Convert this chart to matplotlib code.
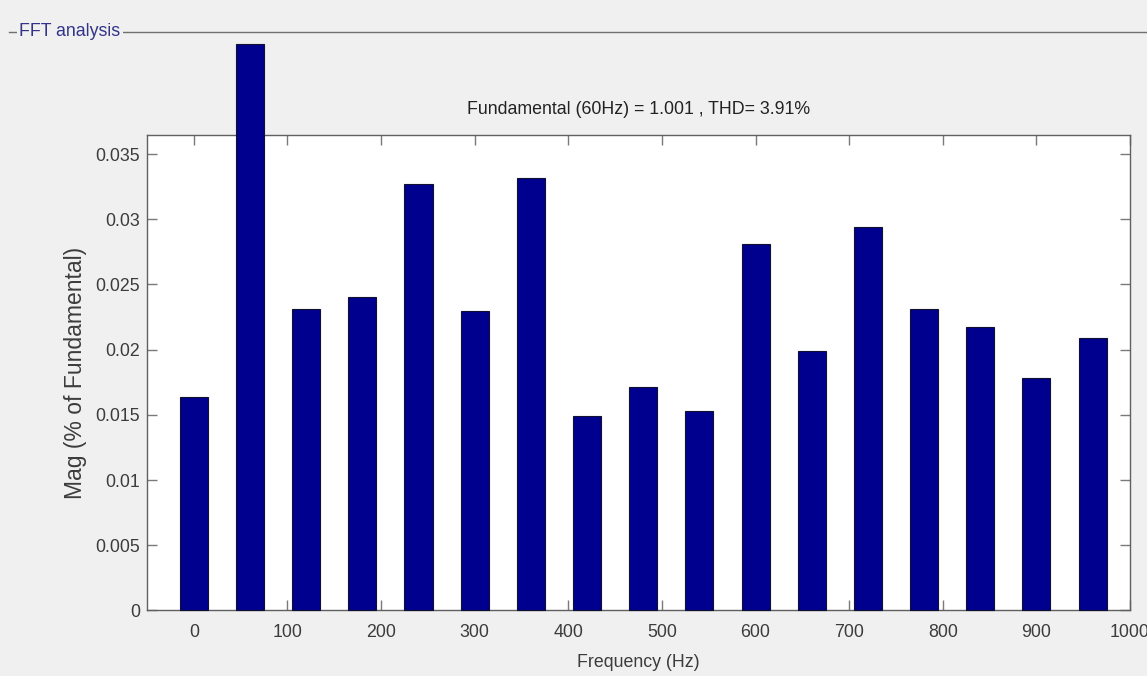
import matplotlib
matplotlib.use("Agg")
import matplotlib.pyplot as plt
from matplotlib.lines import Line2D

# harmonic orders plotted as frequency bins (Hz)
freqs = [0, 60, 120, 180, 240, 300, 360, 420, 480, 540, 600, 660, 720, 780, 840, 900, 960]
# magnitude (% of fundamental)
mags = [0.0164, 0.0434, 0.0231, 0.0240, 0.0327, 0.0230, 0.0332, 0.0149, 0.0171,
        0.0153, 0.0281, 0.0199, 0.0294, 0.0231, 0.0217, 0.0178, 0.0209]

xticks = [0, 100, 200, 300, 400, 500, 600, 700, 800, 900, 1000]
yticks = [0, 0.005, 0.01, 0.015, 0.02, 0.025, 0.03, 0.035]
ytick_labels = ["0", "0.005", "0.01", "0.015", "0.02", "0.025", "0.03", "0.035"]

title = "Fundamental (60Hz) = 1.001 , THD= 3.91%"
panel_title = "FFT analysis"

BG = "#f0f0f0"
BAR = "#00008f"
TXT = "#3c3c3c"
FONT = ["Liberation Sans", "DejaVu Sans"]
FS = 12.8

fig = plt.figure(figsize=(11.47, 6.76), dpi=100, facecolor=BG)
ax = fig.add_axes([0.1282, 0.0969, 0.857, 0.7034])

ax.bar(freqs, mags, width=30, color=BAR, edgecolor="#101030", linewidth=0.8,
       clip_on=False, zorder=3)

ax.set_xlim(-50, 1000)
ax.set_ylim(0, 0.03646)
ax.set_xticks(xticks)
ax.set_xticklabels([str(t) for t in xticks], family=FONT, fontsize=FS, color=TXT)
ax.set_yticks(yticks)
ax.set_yticklabels(ytick_labels, family=FONT, fontsize=FS, color=TXT)
ax.tick_params(direction="in", length=7, width=1.0, color="#7a7a7a",
               top=True, right=True)
ax.tick_params(axis="y", pad=5)
ax.tick_params(axis="x", pad=10)

for s in ax.spines.values():
    s.set_color("#606060")
    s.set_linewidth(1.0)

ax.set_xlabel("Frequency (Hz)", family=FONT, fontsize=FS, color=TXT, labelpad=9)
ax.set_ylabel("Mag (% of Fundamental)", family=FONT, fontsize=16.5, color=TXT,
              labelpad=6)
ax.set_title(title, family=FONT, fontsize=FS, color="#222222", pad=15)

# panel frame line with its caption
fig.add_artist(Line2D([0.008, 1.0], [0.9527, 0.9527], color="#707070", lw=1.0,
                      transform=fig.transFigure))
fig.text(0.017, 0.9527, panel_title, family=FONT, fontsize=FS, color="#33338a",
         va="center", ha="left",
         bbox=dict(facecolor=BG, edgecolor="none", pad=1.5))

fig.savefig("out.png", dpi=100, facecolor=BG)
